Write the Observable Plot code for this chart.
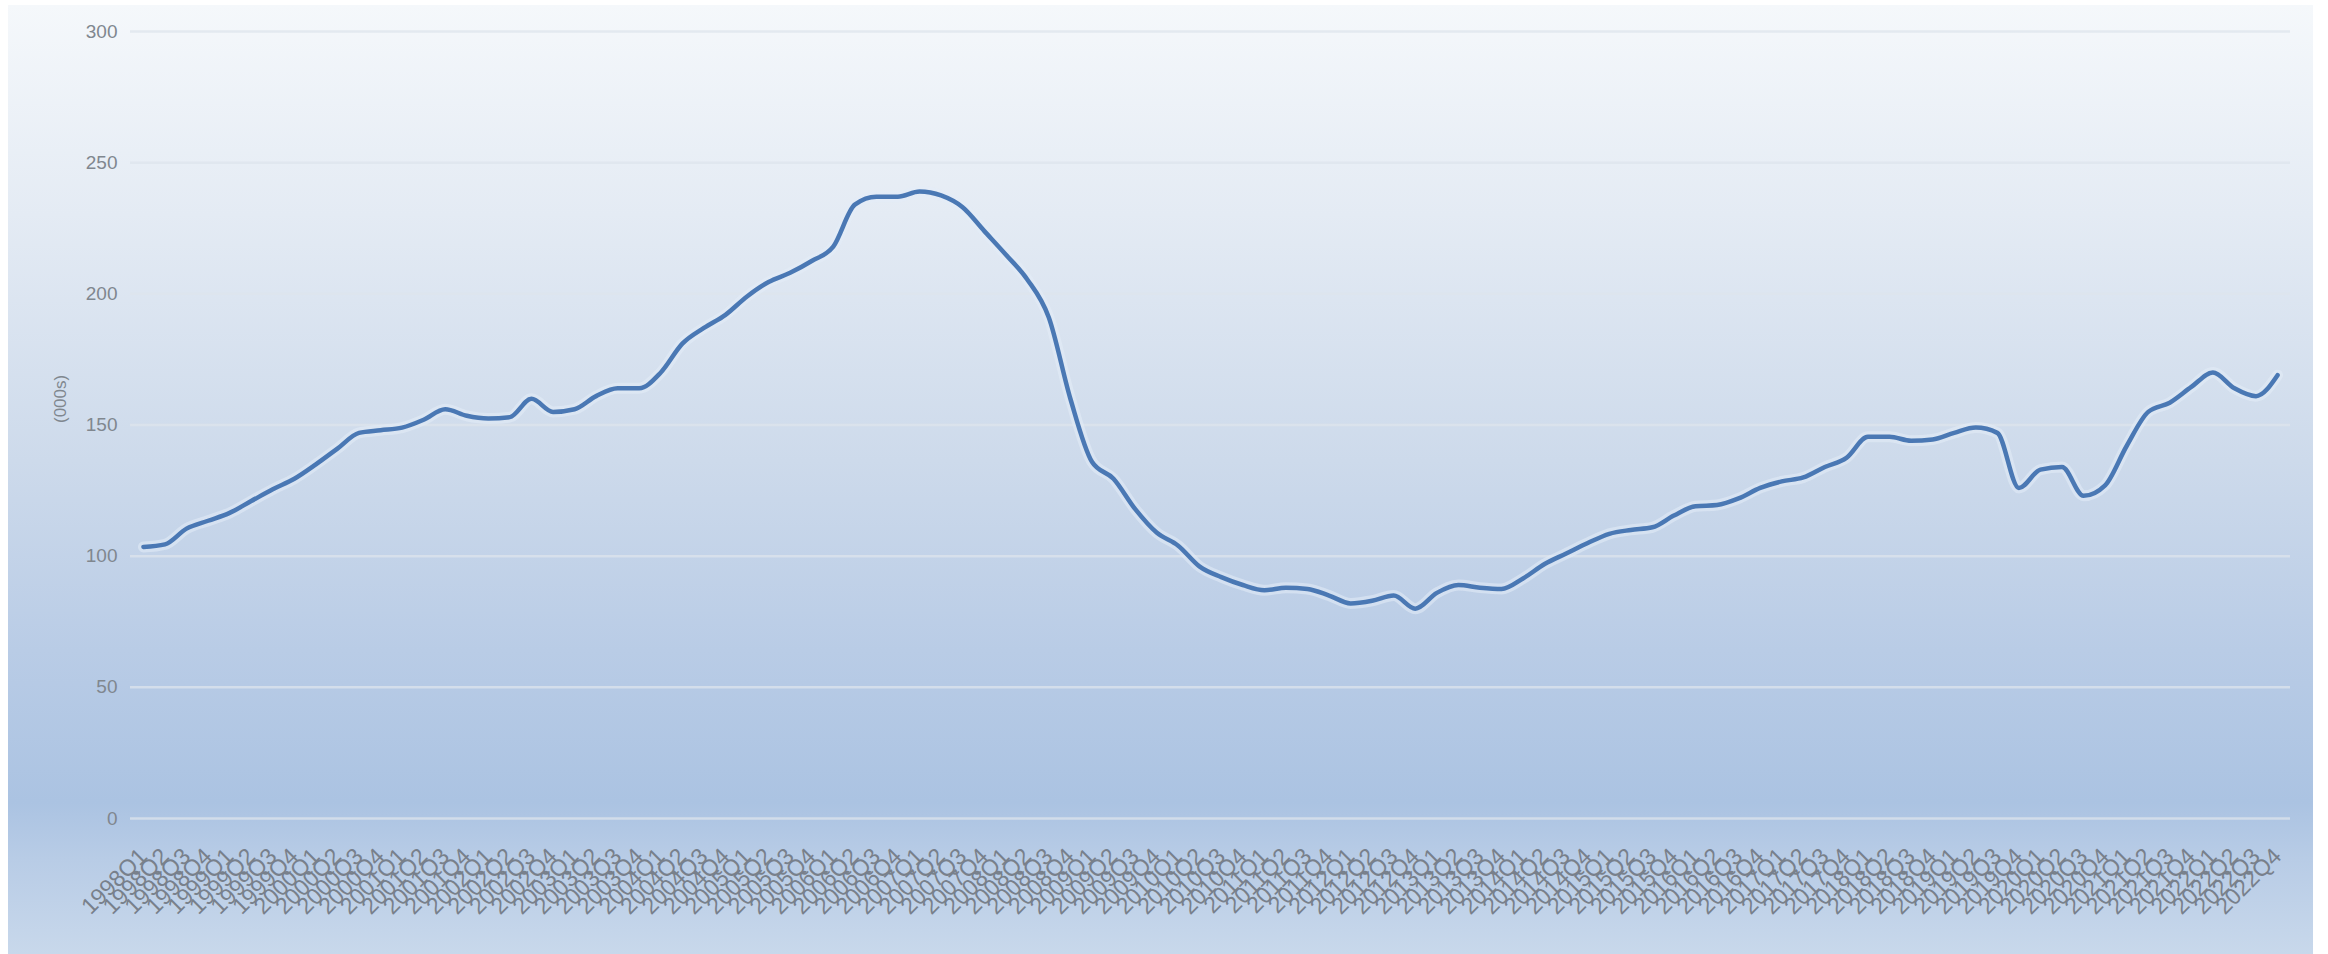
<!DOCTYPE html>
<html>
<head>
<meta charset="utf-8">
<script src="https://cdn.jsdelivr.net/npm/d3@7"></script>
<script src="https://cdn.jsdelivr.net/npm/@observablehq/plot@0.6"></script>
<style>
  html, body { margin: 0; padding: 0; background: #ffffff; }
  #chart svg { display: block; }
</style>
</head>
<body>
<div id="chart"></div>
<script>
// Category (tick label) building blocks
const years = d3.range(1998, 2023);
const quarterNames = ["Q1", "Q2", "Q3", "Q4"];
const periods = years.flatMap(y => quarterNames.map(q => `${y}${q}`));

// Series values (000s)
const values = [
  103.5, 104.5, 110.5, 113.5, 116.5, 121, 125.5, 129.5, 135, 141,
  147, 148, 149, 152, 156, 153.5, 152.5, 153, 160, 155,
  156, 161, 164, 164, 170, 181, 187, 192, 199, 204.5,
  208, 212.5, 218, 234, 237, 237, 239, 237.5, 233, 224,
  215, 205.5, 191, 160, 136, 129.5, 118, 109, 104, 96,
  92, 89, 87, 88, 87.5, 85, 82, 83, 85, 80,
  86, 89, 88, 87.5, 91.5, 97, 101, 105, 108.5, 110,
  111, 115.5, 119, 119.5, 122, 126, 128.5, 130, 134, 137.5,
  145.5, 145.5, 144, 144.5, 147, 149, 147, 126, 133, 134,
  123, 127, 142, 155, 158.5, 164.5, 170, 164, 161, 169
];

// Y tick values
const yTicks = [0, 50, 100, 150, 200, 250, 300];
const yTitle = "(000s)";

const data = periods.map((p, i) => ({period: p, value: values[i]}));

const chart = Plot.plot({
  width: 2328,
  height: 954,
  marginTop: 31,
  marginBottom: 136,
  marginLeft: 130,
  marginRight: 38,
  style: {
    background: "linear-gradient(180deg, #f5f8fb 0%, #e4ebf4 22%, #cddaeb 48%, #b9cce6 68%, #abc3e2 84%, #b8cce6 90%, #c8d8eb 100%) 8px 5px / 2305px 949px no-repeat, #ffffff",
    fontFamily: "'Liberation Sans', Arial, sans-serif",
    color: "#80878f"
  },
  x: {type: "point", domain: periods, padding: 0.6},
  y: {domain: [0, 300]},
  marks: [
    Plot.gridY(yTicks, {stroke: "#dde4ec", strokeOpacity: 0.75, strokeWidth: 2.5}),
    Plot.axisY(yTicks, {tickSize: 0, tickPadding: 13, fontSize: 19, label: null}),
    Plot.text([yTitle], {frameAnchor: "left", dx: -70, dy: -2, rotate: -90, fontSize: 17, fill: "#80878f"}),
    Plot.axisX({tickRotate: -45, tickSize: 0, tickPadding: 34, fontSize: 23, fill: "#78808b", label: null}),
    Plot.line(data, {x: "period", y: "value", stroke: "#e3edf8", strokeOpacity: 0.55, strokeWidth: 11, curve: "monotone-x"}),
    Plot.line(data, {x: "period", y: "value", stroke: "#4a78b4", strokeWidth: 4.5, curve: "monotone-x", strokeLinejoin: "round"})
  ]
});

document.getElementById("chart").append(chart);
</script>
</body>
</html>
